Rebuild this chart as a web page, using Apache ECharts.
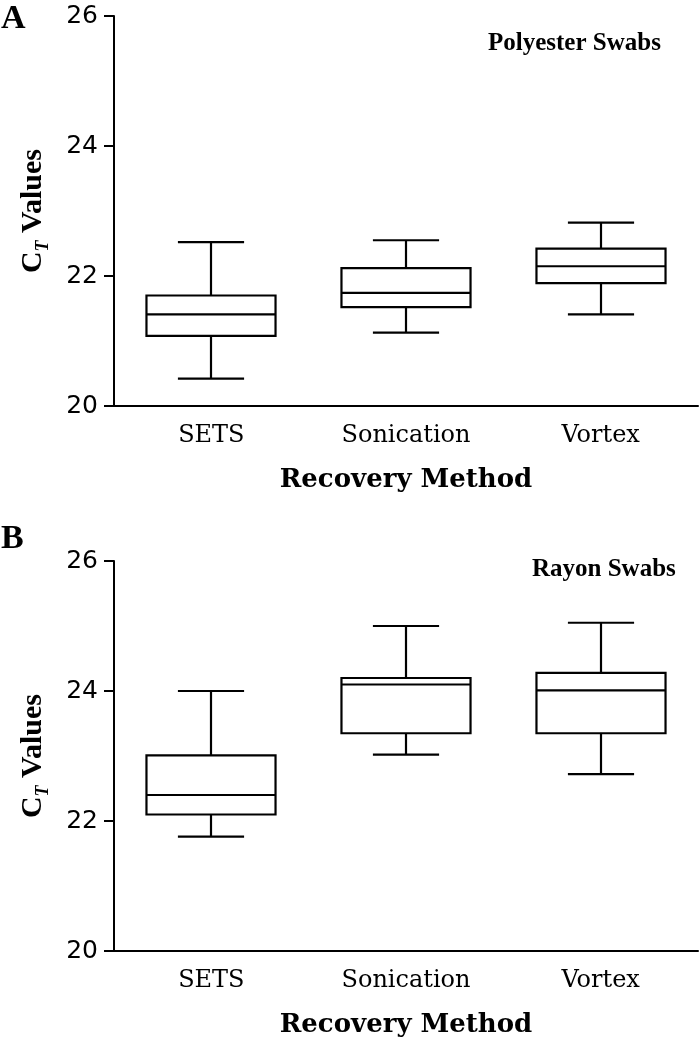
<!DOCTYPE html>
<html>
<head>
<meta charset="utf-8">
<script src="https://cdn.jsdelivr.net/npm/echarts@6/dist/echarts.min.js"></script>
<style>html,body{margin:0;padding:0;background:#fff;}#chart{width:700px;height:1044px;}</style>
</head>
<body>
<div id="chart"></div>
<script>
// Data
const categories = ['SETS', 'Sonication', 'Vortex'];
// [min, Q1, median, Q3, max]
const polyesterStats = [
  [20.42, 21.08, 21.41, 21.70, 22.52],
  [21.13, 21.52, 21.74, 22.12, 22.55],
  [21.41, 21.89, 22.15, 22.42, 22.82]
];
const rayonStats = [
  [21.76, 22.10, 22.40, 23.01, 24.00],
  [23.02, 23.35, 24.10, 24.20, 25.00],
  [22.72, 23.35, 24.01, 24.28, 25.05]
];
const yMin = 20, yMax = 26, yStep = 2;

const chart = echarts.init(document.getElementById('chart'), null, {renderer: 'canvas'});

function renderBox(params, api) {
  const idx = api.value(0);
  const pMin = api.coord([idx, api.value(1)]);
  const pQ1 = api.coord([idx, api.value(2)]);
  const pMed = api.coord([idx, api.value(3)]);
  const pQ3 = api.coord([idx, api.value(4)]);
  const pMax = api.coord([idx, api.value(5)]);
  const band = api.size([1, 0])[0];
  const bw = band * 0.663 / 2;
  const cw = band * 0.34 / 2;
  const x = Math.round(pMin[0]);
  const st = {stroke: '#000', lineWidth: 2.2, fill: null};
  return {
    type: 'group',
    children: [
      {type: 'line', shape: {x1: x, y1: pQ3[1], x2: x, y2: pMax[1]}, style: st},
      {type: 'line', shape: {x1: x, y1: pQ1[1], x2: x, y2: pMin[1]}, style: st},
      {type: 'line', shape: {x1: x - cw, y1: pMax[1], x2: x + cw, y2: pMax[1]}, style: st},
      {type: 'line', shape: {x1: x - cw, y1: pMin[1], x2: x + cw, y2: pMin[1]}, style: st},
      {type: 'rect', shape: {x: x - bw, y: pQ3[1], width: 2 * bw, height: pQ1[1] - pQ3[1]},
        style: {stroke: '#000', lineWidth: 2.2, fill: '#fff'}},
      {type: 'line', shape: {x1: x - bw, y1: pMed[1], x2: x + bw, y2: pMed[1]}, style: st}
    ]
  };
}

function toData(stats) {
  return stats.map((s, i) => [i].concat(s));
}

function xAxisDef(gi) {
  return {
    type: 'category', gridIndex: gi, data: categories, boundaryGap: true,
    axisLine: {lineStyle: {color: '#000', width: 2}},
    axisTick: {alignWithLabel: true, length: 10, lineStyle: {color: '#000', width: 2}},
    axisLabel: {color: '#000', fontFamily: 'DejaVu Serif', fontSize: 24, margin: 18},
    name: 'Recovery Method', nameLocation: 'middle', nameGap: 61,
    nameTextStyle: {color: '#000', fontFamily: 'DejaVu Serif', fontWeight: 'bold', fontSize: 26}
  };
}
function yAxisDef(gi) {
  return {
    type: 'value', gridIndex: gi, min: yMin, max: yMax, interval: yStep,
    splitLine: {show: false},
    axisLine: {show: true, lineStyle: {color: '#000', width: 2}},
    axisTick: {show: true, length: 10, lineStyle: {color: '#000', width: 2}},
    axisLabel: {color: '#000', fontFamily: 'DejaVu Sans', fontSize: 25, margin: 16},
    name: '{c|C}{t|T}{v| Values}', nameLocation: 'middle', nameRotate: 90, nameGap: 66,
    nameTextStyle: {
      color: '#000',
      rich: {
        c: {fontFamily: 'Liberation Serif', fontWeight: 'bold', fontSize: 30, color: '#000'},
        t: {fontFamily: 'Liberation Serif', fontWeight: 'bold', fontStyle: 'italic', fontSize: 18, color: '#000', verticalAlign: 'bottom', padding: [0, 0, -4, 0]},
        v: {fontFamily: 'Liberation Serif', fontWeight: 'bold', fontSize: 30, color: '#000'}
      }
    }
  };
}

const titleStyle = {color: '#000', fontFamily: 'Liberation Serif', fontWeight: 'bold'};

chart.setOption({
  animation: false,
  backgroundColor: '#fff',
  title: [
    {text: 'A', left: 1, top: 2, textStyle: Object.assign({fontSize: 34}, titleStyle), padding: 0},
    {text: 'B', left: 1, top: 522, textStyle: Object.assign({fontSize: 34}, titleStyle), padding: 0},
    {text: 'Polyester Swabs', left: 488, top: 31, textStyle: Object.assign({fontSize: 25}, titleStyle), padding: 0},
    {text: 'Rayon Swabs', left: 532, top: 557, textStyle: Object.assign({fontSize: 25}, titleStyle), padding: 0}
  ],
  grid: [
    {left: 114, top: 16, width: 584, height: 390},
    {left: 114, top: 561, width: 584, height: 390}
  ],
  xAxis: [xAxisDef(0), xAxisDef(1)],
  yAxis: [yAxisDef(0), yAxisDef(1)],
  series: [
    {type: 'custom', xAxisIndex: 0, yAxisIndex: 0, renderItem: renderBox,
      encode: {x: 0, y: [1, 2, 3, 4, 5]}, data: toData(polyesterStats)},
    {type: 'custom', xAxisIndex: 1, yAxisIndex: 1, renderItem: renderBox,
      encode: {x: 0, y: [1, 2, 3, 4, 5]}, data: toData(rayonStats)}
  ]
});
</script>
</body>
</html>
